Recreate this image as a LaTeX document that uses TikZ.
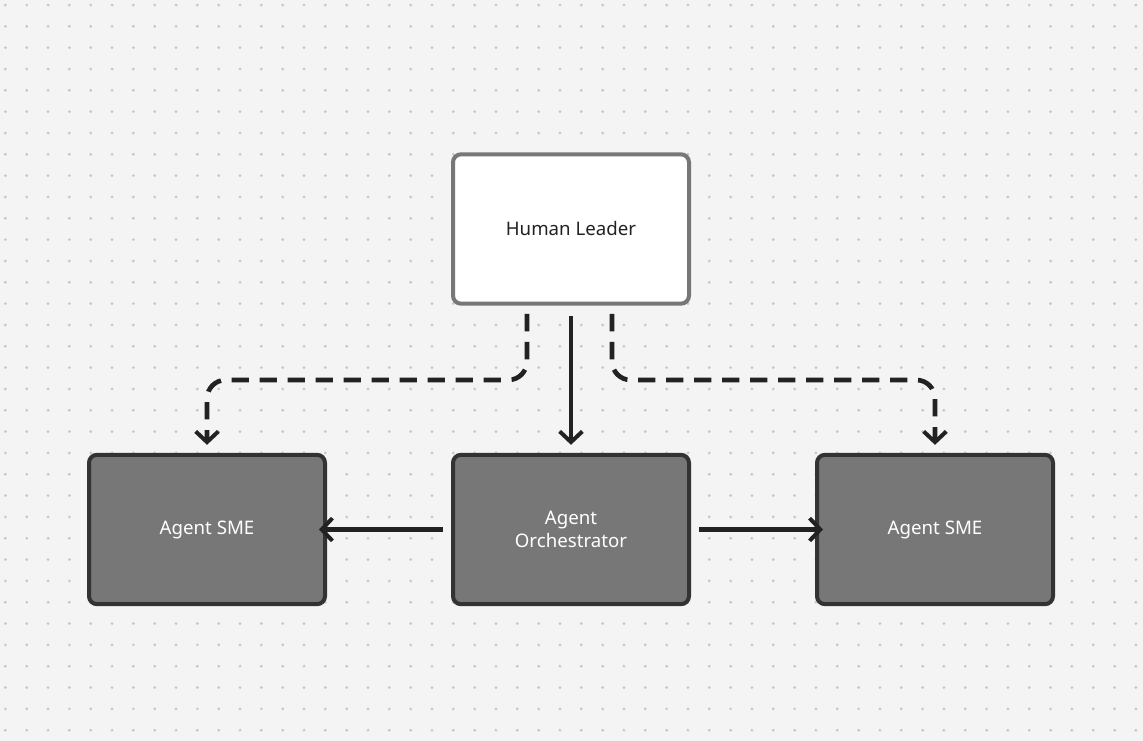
\documentclass[tikz,border=0pt]{standalone}
\usepackage{fontspec}
\setmainfont{Noto Sans}
\usetikzlibrary{arrows.meta}
\definecolor{bg}{HTML}{F4F4F4}
\definecolor{dotc}{HTML}{C4C4C4}
\definecolor{ink}{HTML}{222222}
\definecolor{dark}{HTML}{777777}
\definecolor{darkb}{HTML}{333333}
\begin{document}
\begin{tikzpicture}[x=0.75pt,y=-0.75pt,
  box/.style={rounded corners=6pt,line width=3pt,minimum width=177pt,minimum height=112pt,inner sep=0pt,font=\fontsize{14}{17}\selectfont,align=center},
  light/.style={box,draw=dark,fill=white,text=ink},
  darkbox/.style={box,draw=darkb,fill=dark,text=white},
  conn/.style={draw=ink,line width=3.5pt,-{Straight Barb[length=8pt,width=17pt,line width=3pt]}},
  dashconn/.style={conn,dash pattern=on 13pt off 8pt,rounded corners=14pt}]
\fill[bg] (0,0) rectangle (1143,741);
\useasboundingbox (0,0) rectangle (1143,741);
\foreach \i in {0,...,53}{\foreach \j in {0,...,34}{
  \fill[dotc] ({5.4+21.33*\i},{5+21.33*\j}) circle (1.1pt);}}
\node[light] (hl) at (571,229) {Human Leader};
\node[darkbox] (ao) at (571,529.5) {Agent\\Orchestrator};
\node[darkbox] (sl) at (207,529.5) {Agent SME};
\node[darkbox] (sr) at (935,529.5) {Agent SME};
\coordinate (a1) at (527,314); \coordinate (a2) at (612,314);
\draw[conn] (hl.south) ++(0,-8pt) -- ([yshift=6pt]ao.north);
\draw[dashconn] (a1) -- (527,380) -- (207,380) -- ([yshift=6pt]sl.north);
\draw[dashconn] (a2) -- (612,380) -- (935,380) -- ([yshift=6pt]sr.north);
\draw[conn] ([xshift=-6pt]ao.west) -- ([xshift=-6pt]sl.east);
\draw[conn] ([xshift=6pt]ao.east) -- ([xshift=6pt]sr.west);
\end{tikzpicture}
\end{document}
